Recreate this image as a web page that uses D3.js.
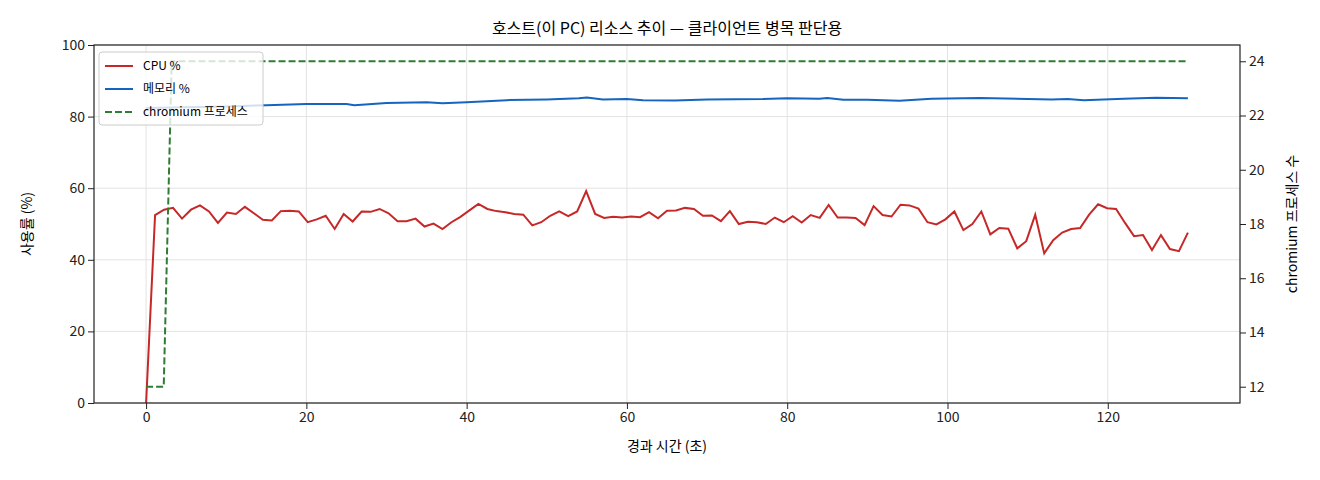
<!DOCTYPE html>
<html><head><meta charset="utf-8">
<script src="https://cdn.jsdelivr.net/npm/d3@7"></script>
<style>body{margin:0;background:#fff;font-family:"Noto Sans CJK KR","DejaVu Sans",sans-serif;}</style>
</head><body><div class="viz"></div>
<script>
// CPU % samples (121 samples over 0..130 s)
var cpu = [0,52.5,54,54.5,51.5,54,55.2,53.5,50.3,53.2,52.8,54.8,53,51.2,51,53.6,53.7,53.5,50.5,51.3,
  52.3,48.6,52.8,50.7,53.5,53.4,54.2,53,50.8,50.8,51.5,49.3,50.1,48.6,50.5,52,53.8,55.6,54.2,53.6,
  53.3,52.8,52.6,49.6,50.5,52.3,53.5,52.2,53.5,59.2,52.8,51.7,52,51.8,52.1,51.9,53.3,51.6,53.7,53.8,
  54.5,54.2,52.3,52.4,50.8,53.6,50,50.6,50.5,50,51.8,50.5,52.2,50.4,52.5,51.7,55.3,51.8,51.8,51.7,
  49.7,55,52.5,52.1,55.4,55.2,54.3,50.5,49.9,51.3,53.5,48.3,50,53.5,47.1,48.9,48.7,43.2,45.2,52.6,
  41.8,45.5,47.6,48.6,48.9,52.6,55.5,54.4,54.2,50.3,46.6,46.9,42.7,46.9,43,42.4,47.6];
// memory % [time, value]
var mem = [[0,82.4],[10,82.8],[15,83.2],[20,83.5],[25,83.5],[26,83.2],[30,83.8],[35,84],[37,83.7],[40,84],
  [45,84.6],[50,84.8],[54,85.1],[55,85.3],[57,84.8],[60,84.9],[62,84.6],[66,84.5],[70,84.8],[77,84.9],
  [80,85.1],[84,85],[85,85.2],[87,84.7],[90,84.7],[94,84.4],[98,85],[104,85.2],[110,84.9],[113,84.8],
  [115,84.9],[117,84.6],[122,85],[126,85.3],[130,85.1]];
// chromium process count [time, value]
var proc = [[0,12],[2.2,12],[3.2,24],[130,24]];
var xTicks = [0,20,40,60,80,100,120];
var yTicks = [0,20,40,60,80,100];
var y2Ticks = [12,14,16,18,20,22,24];

var W = 1320, H = 480, L = 94, R = 1240, T = 45, B = 403;
var svg = d3.select(".viz").append("svg").attr("width", W).attr("height", H)
  .style("font-family", "'Noto Sans CJK KR','DejaVu Sans',sans-serif");

var x = d3.scaleLinear().domain([-6.5, 136.5]).range([L, R]);
var y = d3.scaleLinear().domain([0, 100]).range([B, T]);
var y2 = d3.scaleLinear().domain([11.4, 24.6]).range([B, T]);

// grid
svg.selectAll(".gx").data(xTicks).enter().append("line")
  .attr("x1", d => x(d)).attr("x2", d => x(d)).attr("y1", T).attr("y2", B)
  .attr("stroke", "#e3e3e3");
svg.selectAll(".gy").data(yTicks).enter().append("line")
  .attr("x1", L).attr("x2", R).attr("y1", d => y(d)).attr("y2", d => y(d))
  .attr("stroke", "#e3e3e3");

var line = d3.line().x(d => x(d[0])).y(d => y(d[1]));
var cpuPts = cpu.map((v, i) => [i * 130 / (cpu.length - 1), v]);
svg.append("path").datum(mem).attr("d", line).attr("fill", "none")
  .attr("stroke", "#1565c0").attr("stroke-width", 2);
svg.append("path").datum(cpuPts).attr("d", line).attr("fill", "none")
  .attr("stroke", "#c62828").attr("stroke-width", 2);
svg.append("path").datum(proc)
  .attr("d", d3.line().x(d => x(d[0])).y(d => y2(d[1]))).attr("fill", "none")
  .attr("stroke", "#2e7d32").attr("stroke-width", 2).attr("stroke-dasharray", "7,3");

// axes
function style(g) {
  g.selectAll("text").attr("font-size", 14).attr("fill", "#222")
    .style("font-family", "'Noto Sans CJK KR','DejaVu Sans',sans-serif");
  g.selectAll("line").attr("stroke", "#222");
  g.select(".domain").remove();
}
svg.append("g").attr("transform", "translate(0," + B + ")")
  .call(d3.axisBottom(x).tickValues(xTicks).tickSizeOuter(0)).call(style);
svg.append("g").attr("transform", "translate(" + L + ",0)")
  .call(d3.axisLeft(y).tickValues(yTicks)).call(style);
svg.append("g").attr("transform", "translate(" + R + ",0)")
  .call(d3.axisRight(y2).tickValues(y2Ticks)).call(style);
svg.append("rect").attr("x", L).attr("y", T).attr("width", R - L).attr("height", B - T)
  .attr("fill", "none").attr("stroke", "#222").attr("stroke-width", 1.2);

// labels
svg.append("text").attr("x", (L + R) / 2).attr("y", 34).attr("text-anchor", "middle")
  .attr("font-size", 16).text("호스트(이 PC) 리소스 추이 — 클라이언트 병목 판단용");
svg.append("text").attr("x", (L + R) / 2).attr("y", 451).attr("text-anchor", "middle")
  .attr("font-size", 14).text("경과 시간 (초)");
svg.append("text").attr("transform", "translate(32," + (T + B) / 2 + ") rotate(-90)")
  .attr("text-anchor", "middle").attr("font-size", 14).text("사용률 (%)");
svg.append("text").attr("transform", "translate(1297," + (T + B) / 2 + ") rotate(-90)")
  .attr("text-anchor", "middle").attr("font-size", 14).text("chromium 프로세스 수");

// legend
var lg = svg.append("g").attr("transform", "translate(99,52)");
lg.append("rect").attr("width", 164).attr("height", 73).attr("rx", 3)
  .attr("fill", "rgba(255,255,255,0.8)").attr("stroke", "#ccc");
var items = [["CPU %", "#c62828", null], ["메모리 %", "#1565c0", null], ["chromium 프로세스", "#2e7d32", "7,3"]];
items.forEach(function(d, i) {
  var yy = 14 + i * 23;
  lg.append("line").attr("x1", 6).attr("x2", 34).attr("y1", yy).attr("y2", yy)
    .attr("stroke", d[1]).attr("stroke-width", 2).attr("stroke-dasharray", d[2]);
  lg.append("text").attr("x", 44).attr("y", yy + 4).attr("font-size", 12).text(d[0]);
});
</script></body></html>
